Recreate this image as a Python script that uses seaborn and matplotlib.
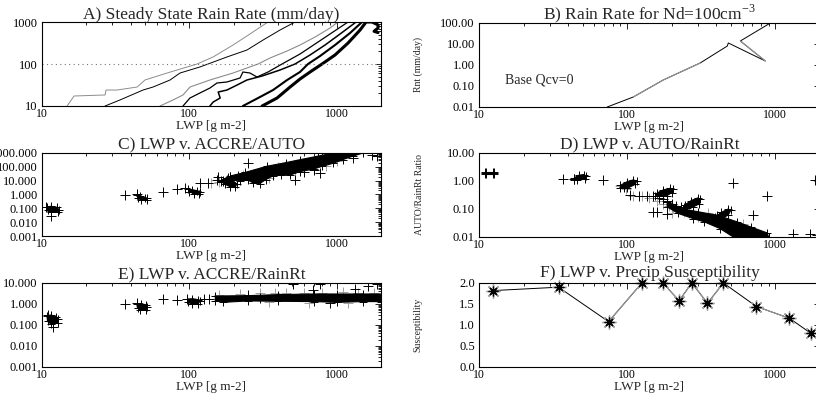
import numpy as np
import pandas as pd
import matplotlib
matplotlib.use("Agg")
import matplotlib.pyplot as plt
from matplotlib.ticker import FixedLocator, LogLocator, NullFormatter, FixedFormatter, AutoMinorLocator
import seaborn as sns

sns.set_style("white")
plt.rcParams['font.family'] = ['Liberation Serif', 'DejaVu Serif']
plt.rcParams['mathtext.fontset'] = 'custom'
plt.rcParams['mathtext.rm'] = 'Liberation Serif'

# ---------------- Panel A: contour lines (LWP vs Nd) ----------------
a1_lwp = [14.8, 16.5, 26.8, 27.2, 32.3, 44.2, 50, 70.6, 113, 145, 198, 258, 342]
a1_nd = [10, 17.3, 18.3, 24, 24, 28.3, 41.6, 61, 100, 147, 283, 518, 1000]
a2_lwp = [26.8, 33.8, 48.5, 56.7, 74, 86.5, 118, 134, 180, 246, 317, 413, 522]
a2_nd = [10, 13.9, 24, 28.3, 41.6, 61, 85, 100, 147, 215, 373, 645, 1000]
a3_lwp = [63.2, 77.5, 90.6, 101, 138, 198, 293, 353, 461, 564, 714, 902, 1022]
a3_nd = [10, 13.9, 18.3, 28.3, 41.6, 61, 100, 139, 204, 283, 439, 720, 1000]
a4_lwp = [90.6, 101, 118, 138, 154, 180, 221, 231, 258, 288, 342, 426, 564, 748, 945, 1195]
a4_nd = [10, 15.5, 20.4, 26.8, 35.3, 37.3, 46.4, 64.5, 61, 49, 64.5, 100, 173, 334, 578, 1000]
a5_lwp = [138, 145, 162, 157, 180, 211, 246, 312, 413, 522, 660, 834, 1055, 1355]
a5_nd = [10, 12.4, 15.5, 21.5, 24, 31.6, 41.6, 51.8, 72, 100, 164, 283, 518, 1000]
a6_lwp = [231, 302, 370, 461, 564, 639, 772, 975, 1233, 1488]
a6_nd = [10, 16.4, 24, 41.6, 64.5, 100, 155, 283, 547, 1000]
a7_lwp = [312, 394, 483, 564, 660, 796, 975, 1195, 1442, 1584, 1739, 1910, 1910, 1794, 1910]
a7_nd = [10, 15.5, 28.3, 43.9, 64.5, 100, 164, 316, 645, 1000, 1000, 850, 720, 600, 560]
a_ref_nd = 100

# ---------------- Panel B: rain rate for Nd=100 ----------------
b_lwp = [73.3, 110, 175, 311, 474, 481, 855, 580, 925]
b_rr = [0.01, 0.030, 0.193, 1.25, 8.03, 11.2, 1.55, 13.9, 100]

# ---------------- Panel C: LWP v ACCRE/AUTO ----------------
c_pts_lwp = [11.5, 10.6, 36.6, 44, 66, 82, 93, 118, 134, 154, 157, 190, 170, 250, 483, 522, 772, 700, 1291, 1750, 1880, 600, 182, 215]
c_pts_val = [0.03, 0.13, 0.92, 1.0, 1.6, 2.5, 3.0, 6.8, 6.8, 11, 19, 19, 9, 200, 34, 11, 34, 55, 420, 720, 650, 40, 15, 22]
c_gray_lwp = [300, 400, 600, 350, 160, 140, 230, 520, 850, 1000]
c_gray_val = [45, 90, 160, 15, 8, 7, 25, 60, 120, 250]
c_blob1_lwp = [10.8, 11.5, 12.6, 13.0, 12.8, 11.6, 10.9]
c_blob1_val = [0.13, 0.14, 0.12, 0.08, 0.055, 0.05, 0.07]
c_blob2_lwp = [44, 46, 50, 52, 51.5, 47, 45]
c_blob2_val = [0.9, 0.75, 0.6, 0.55, 0.38, 0.38, 0.55]
c_blob3_lwp = [98, 105, 113, 118, 117, 108, 100]
c_blob3_val = [2.6, 2.2, 1.9, 1.6, 1.15, 1.1, 1.6]
c_blob4_lwp = [165, 180, 195, 210, 205, 190, 175, 165]
c_blob4_val = [12, 14, 11, 6, 3.3, 3.5, 5.5, 8]
c_band_lwp = [190, 240, 336, 450, 565, 750, 946,
              1513, 1291, 1100, 946, 800, 700, 565, 480, 420, 370, 330, 300, 270, 250, 220, 195]
c_band_val = [22, 40, 110, 200, 330, 600, 1000,
              1000, 600, 330, 180, 110, 70, 45, 25, 25, 22, 12, 6, 7, 11, 10, 12]

# ---------------- Panel D: LWP v AUTO/RainRt ----------------
d_pts_lwp = [11.2, 12.4, 37, 44, 69, 95, 105, 120, 135, 150, 165, 175, 185, 200, 215, 230,
             150, 158, 185, 520, 880, 710, 1320, 1720, 1850, 1900]
d_pts_val = [2.0, 2.0, 1.16, 1.2, 1.1, 0.6, 0.32, 0.3, 0.3, 0.28, 0.25, 0.22, 0.2, 0.15, 0.13, 0.12,
             0.075, 0.079, 0.069, 0.83, 0.29, 0.06, 0.013, 0.013, 1.1, 0.012]
d_gray_lwp = [90, 98, 110, 125, 140, 160, 175, 190, 205, 220, 240, 260, 200, 230, 300, 350, 420, 600]
d_gray_val = [0.65, 0.5, 0.3, 0.28, 0.25, 0.2, 0.15, 0.13, 0.11, 0.09, 0.08, 0.07, 0.07, 0.1, 0.05, 0.07, 0.045, 0.03]
d_blob1_lwp = [11.0, 12.7, 12.7, 11.0]
d_blob1_val = [2.15, 2.15, 1.85, 1.85]
d_blob2_lwp = [44, 47, 51, 53, 52, 46, 44]
d_blob2_val = [1.3, 1.6, 1.7, 1.5, 1.2, 1.05, 1.1]
d_blob3_lwp = [90, 100, 110, 116, 113, 100, 90]
d_blob3_val = [0.7, 0.95, 1.1, 1.0, 0.75, 0.55, 0.55]
d_blob4_lwp = [160, 175, 195, 205, 200, 185, 165, 155]
d_blob4_val = [0.38, 0.48, 0.55, 0.5, 0.38, 0.3, 0.28, 0.3]
d_blob5_lwp = [245, 270, 300, 312, 305, 280, 255, 240]
d_blob5_val = [0.14, 0.2, 0.25, 0.22, 0.15, 0.12, 0.11, 0.12]
d_blob6_lwp = [390, 430, 480, 500, 480, 430, 395, 380]
d_blob6_val = [0.05, 0.075, 0.1, 0.09, 0.06, 0.045, 0.04, 0.045]
d_band_lwp = [186, 239, 300, 405, 550, 680, 880, 900, 520, 423, 330, 280, 220, 186]
d_band_val = [0.18, 0.1, 0.08, 0.06, 0.035, 0.023, 0.014, 0.01, 0.01, 0.02, 0.035, 0.045, 0.07, 0.12]

# ---------------- Panel E: LWP v ACCRE/RainRt ----------------
e_pts_lwp = [11, 11.8, 36.6, 44, 66, 82, 96, 125, 135, 503, 772, 690, 1340, 1630, 902, 1880, 250, 300]
e_pts_val = [0.3, 0.08, 1.0, 1.1, 1.7, 1.6, 1.7, 1.8, 1.7, 8.7, 9.4, 4.85, 5.4, 7.0, 1.1, 9.0, 2.8, 1.9]
e_gray_lwp = [160, 220, 300, 380, 450, 600, 800, 1100, 1400, 1800, 350, 650, 1200]
e_gray_val = [2.7, 3.0, 3.2, 3.3, 3.4, 3.5, 3.4, 3.6, 3.5, 3.4, 1.2, 1.1, 1.15]
e_blob1_lwp = [10.8, 11.5, 12.5, 12.9, 12.8, 11.5, 10.9]
e_blob1_val = [0.28, 0.3, 0.25, 0.2, 0.12, 0.11, 0.15]
e_blob2_lwp = [44, 47, 51, 52, 51, 46, 44.5]
e_blob2_val = [0.95, 1.05, 0.9, 0.75, 0.5, 0.5, 0.65]
e_blob3_lwp = [97, 105, 115, 118, 115, 105, 98]
e_blob3_val = [1.7, 1.8, 1.6, 1.4, 1.0, 0.95, 1.2]
e_band_lwp = [150, 250, 400, 700, 1000, 1500, 2000, 2000, 1500, 1000, 700, 400, 250, 170, 150]
e_band_val = [2.4, 2.5, 2.8, 3.0, 3.0, 3.0, 3.0, 1.3, 1.3, 1.2, 1.3, 1.35, 1.4, 1.2, 1.4]

# ---------------- Panel F: LWP v Precip Susceptibility ----------------
f_lwp = [12.5, 34.4, 74.9, 125.6, 174, 224, 273, 348, 446, 745, 1244, 1739]
f_sus = [1.82, 1.90, 1.08, 2.0, 2.0, 1.58, 2.0, 1.52, 2.0, 1.44, 1.16, 0.80]

TICK_FS = 9
XTICK_FS = 8.5
TITLE_FS = 12.5
LAB_FS = 9.5

fig = plt.figure(figsize=(8.16, 3.93), dpi=100)
axA = fig.add_axes([0.05147, 0.73028, 0.41544, 0.21374])
axB = fig.add_axes([0.58701, 0.72774, 0.41789, 0.21374])
axC = fig.add_axes([0.05147, 0.39949, 0.41544, 0.21120])
axD = fig.add_axes([0.58701, 0.39695, 0.41789, 0.21374])
axE = fig.add_axes([0.05147, 0.06616, 0.41544, 0.21374])
axF = fig.add_axes([0.58701, 0.06616, 0.41789, 0.21374])


def style(ax, title, yticks=None, ylabels=None, ylim=None, logy=True, tpad=2.5):
    ax.set_xscale('log')
    ax.set_xlim(10, 2000)
    if logy:
        ax.set_yscale('log')
    ax.set_ylim(*ylim)
    ax.xaxis.set_major_locator(FixedLocator([10, 100, 1000]))
    ax.xaxis.set_major_formatter(FixedFormatter(['10', '100', '1000']))
    ax.xaxis.set_minor_locator(LogLocator(base=10, subs=np.arange(2, 10), numticks=20))
    ax.xaxis.set_minor_formatter(NullFormatter())
    ax.yaxis.set_major_locator(FixedLocator(yticks))
    ax.yaxis.set_major_formatter(FixedFormatter(ylabels))
    if logy:
        ax.yaxis.set_minor_locator(LogLocator(base=10, subs=np.arange(2, 10), numticks=20))
    else:
        ax.yaxis.set_minor_locator(AutoMinorLocator(5))
    ax.yaxis.set_minor_formatter(NullFormatter())
    ax.tick_params(which='both', direction='in', top=True, right=True, width=0.6, colors='black')
    ax.tick_params(axis='y', labelsize=TICK_FS, pad=3)
    ax.tick_params(axis='x', labelsize=XTICK_FS, pad=1.5)
    ax.tick_params(which='major', length=4.5)
    ax.tick_params(which='minor', length=2.2)
    for s in ax.spines.values():
        s.set_linewidth(0.8)
        s.set_color('black')
    ax.set_title(title, fontsize=TITLE_FS, pad=tpad)
    ax.set_xlabel('LWP [g m-2]', fontsize=LAB_FS, labelpad=0)


def blobs(ax, shapes):
    for xs, ys in shapes:
        ax.fill(xs, ys, color='black', lw=0.8)
        sns.scatterplot(x=xs, y=ys, marker='+', s=40, color='black', linewidth=0.7, ax=ax)


# ---- A ----
a_lines = [(a1_lwp, a1_nd, '#8c8c8c', 0.7), (a2_lwp, a2_nd, 'black', 0.7),
           (a3_lwp, a3_nd, '#8c8c8c', 0.8), (a4_lwp, a4_nd, 'black', 0.9),
           (a5_lwp, a5_nd, 'black', 1.1), (a6_lwp, a6_nd, 'black', 1.5),
           (a7_lwp, a7_nd, 'black', 2.2)]
for xs, ys, col, lw in a_lines:
    sns.lineplot(x=xs, y=ys, sort=False, estimator=None, color=col, lw=lw, ax=axA)
axA.axhline(a_ref_nd, color='#777777', lw=0.8, ls=(0, (1, 3)))
style(axA, 'A) Steady State Rain Rate (mm/day)', [10, 100, 1000], ['10', '100', '1000'], (10, 1000))

# ---- B ----
sns.lineplot(x=b_lwp, y=b_rr, sort=False, estimator=None, color='black', lw=0.7, ax=axB)
sns.lineplot(x=b_lwp[1:4], y=b_rr[1:4], sort=False, estimator=None, color='#9a9a9a', lw=0.8, ax=axB)
sns.lineplot(x=b_lwp[6:8], y=b_rr[6:8], sort=False, estimator=None, color='#9a9a9a', lw=0.8, ax=axB)
axB.text(0.076, 0.32, 'Base Qcv=0', transform=axB.transAxes, fontsize=10, va='center', ha='left')
style(axB, r'B) Rain Rate for Nd=100cm$^{\mathregular{-3}}$', [0.01, 0.1, 1, 10, 100],
      ['0.01', '0.10', '1.00', '10.00', '100.00'], (0.01, 100))
axB.set_ylabel('Rnt (mm/day)', fontsize=7, labelpad=0)
axB.yaxis.set_label_coords(-0.165, 0.5)

# ---- C ----
sns.scatterplot(x=c_gray_lwp, y=c_gray_val, marker='+', s=55, color='#a0a0a0', linewidth=0.7, ax=axC)
blobs(axC, [(c_blob1_lwp, c_blob1_val), (c_blob2_lwp, c_blob2_val), (c_blob3_lwp, c_blob3_val),
            (c_blob4_lwp, c_blob4_val), (c_band_lwp, c_band_val)])
sns.scatterplot(x=c_pts_lwp, y=c_pts_val, marker='+', s=60, color='black', linewidth=0.7, ax=axC)
style(axC, 'C) LWP v. ACCRE/AUTO', [0.001, 0.01, 0.1, 1, 10, 100, 1000],
      ['0.001', '0.010', '0.100', '1.000', '10.000', '100.000', '1000.000'], (0.001, 1000))

# ---- D ----
sns.scatterplot(x=d_gray_lwp, y=d_gray_val, marker='+', s=55, color='#a0a0a0', linewidth=0.7, ax=axD)
blobs(axD, [(d_blob1_lwp, d_blob1_val), (d_blob2_lwp, d_blob2_val), (d_blob3_lwp, d_blob3_val),
            (d_blob4_lwp, d_blob4_val), (d_blob5_lwp, d_blob5_val), (d_blob6_lwp, d_blob6_val),
            (d_band_lwp, d_band_val)])
sns.scatterplot(x=d_pts_lwp, y=d_pts_val, marker='+', s=60, color='black', linewidth=0.7, ax=axD)
style(axD, 'D) LWP v. AUTO/RainRt', [0.01, 0.1, 1, 10], ['0.01', '0.10', '1.00', '10.00'], (0.01, 10))
axD.set_ylabel('AUTO/RainRt Ratio', fontsize=7, labelpad=0)
axD.yaxis.set_label_coords(-0.16, 0.5)

# ---- E ----
sns.scatterplot(x=e_gray_lwp, y=e_gray_val, marker='+', s=55, color='#a0a0a0', linewidth=0.7, ax=axE)
blobs(axE, [(e_blob1_lwp, e_blob1_val), (e_blob2_lwp, e_blob2_val), (e_blob3_lwp, e_blob3_val),
            (e_band_lwp, e_band_val)])
sns.scatterplot(x=e_pts_lwp, y=e_pts_val, marker='+', s=60, color='black', linewidth=0.7, ax=axE)
style(axE, 'E) LWP v. ACCRE/RainRt', [0.001, 0.01, 0.1, 1, 10],
      ['0.001', '0.010', '0.100', '1.000', '10.000'], (0.001, 10))

# ---- F ----
sns.lineplot(x=f_lwp, y=f_sus, sort=False, estimator=None, color='black', lw=0.7, ax=axF)
sns.lineplot(x=f_lwp[2:4], y=f_sus[2:4], sort=False, estimator=None, color='#9a9a9a', lw=0.8, ax=axF)
sns.lineplot(x=f_lwp[4:9], y=f_sus[4:9], sort=False, estimator=None, color='#9a9a9a', lw=0.8, ax=axF)
sns.lineplot(x=f_lwp[9:11], y=f_sus[9:11], sort=False, estimator=None, color='#9a9a9a', lw=0.8, ax=axF)
axF.plot(f_lwp, f_sus, ls='none', marker=(8, 2, 0), ms=10, mec='#a0a0a0', mew=1.0, clip_on=False)
axF.plot(f_lwp, f_sus, ls='none', marker=(8, 2, 0), ms=7, mec='black', mew=0.9, clip_on=False)
style(axF, 'F) LWP v. Precip Susceptibility', [0, 0.5, 1.0, 1.5, 2.0],
      ['0.0', '0.5', '1.0', '1.5', '2.0'], (0, 2.0), logy=False, tpad=4)
axF.set_ylabel('Susceptibility', fontsize=7, labelpad=0)
axF.yaxis.set_label_coords(-0.165, 0.5)

fig.savefig('out.png', dpi=100)
